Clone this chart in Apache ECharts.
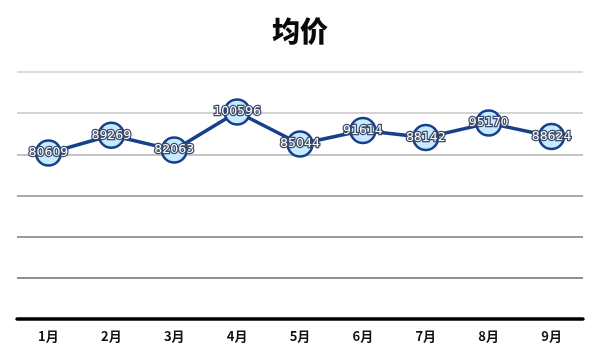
<!DOCTYPE html>
<html>
<head>
<meta charset="utf-8">
<script src="https://cdn.jsdelivr.net/npm/echarts@6/dist/echarts.min.js"></script>
<style>html,body{margin:0;padding:0;background:#fff;}#c{width:600px;height:358px;}</style>
</head>
<body>
<div id="c"></div>
<script>
const categories = ['1月','2月','3月','4月','5月','6月','7月','8月','9月'];
const avgPrice = [80609, 89269, 82063, 100596, 85044, 91614, 88142, 95170, 88624];
const titleText = '均价';

const chart = echarts.init(document.getElementById('c'));
chart.setOption({
  backgroundColor: '#ffffff',
  animation: false,
  title: {
    text: titleText, left: 'center', top: 12,
    textStyle: { fontFamily: 'Noto Sans CJK SC', fontSize: 28, fontWeight: 900, color: '#0a0a0a' }
  },
  grid: { left: 17, right: 17, top: 72, bottom: 39 },
  xAxis: {
    type: 'category', data: categories, boundaryGap: true,
    axisLine: { lineStyle: { color: '#000', width: 3.5 } },
    axisTick: { show: false },
    axisLabel: { margin: 11, fontFamily: 'Noto Sans CJK SC', fontSize: 13, fontWeight: 'bold', color: '#111' }
  },
  yAxis: {
    type: 'value', min: 0, max: 120000, interval: 20000,
    axisLabel: { show: false }, axisLine: { show: false }, axisTick: { show: false },
    splitLine: { lineStyle: { color: ['#000', '#6a6a6a', '#7a7a7a', '#8e8e8e', '#b0b0b0', '#c4c4c4', '#d0d0d0'], width: 1.5 } }
  },
  series: [{
    type: 'line', data: avgPrice,
    symbol: 'circle', symbolSize: 25,
    lineStyle: { color: '#16408c', width: 3.5 },
    itemStyle: { color: '#c6eaff', borderColor: '#16408c', borderWidth: 2.5 },
    label: {
      show: true, position: 'inside',
      fontFamily: 'DejaVu Sans', fontSize: 12.5,
      color: '#ffffff', textBorderColor: '#3c4a68', textBorderWidth: 2.5
    }
  }]
});
</script>
</body>
</html>
